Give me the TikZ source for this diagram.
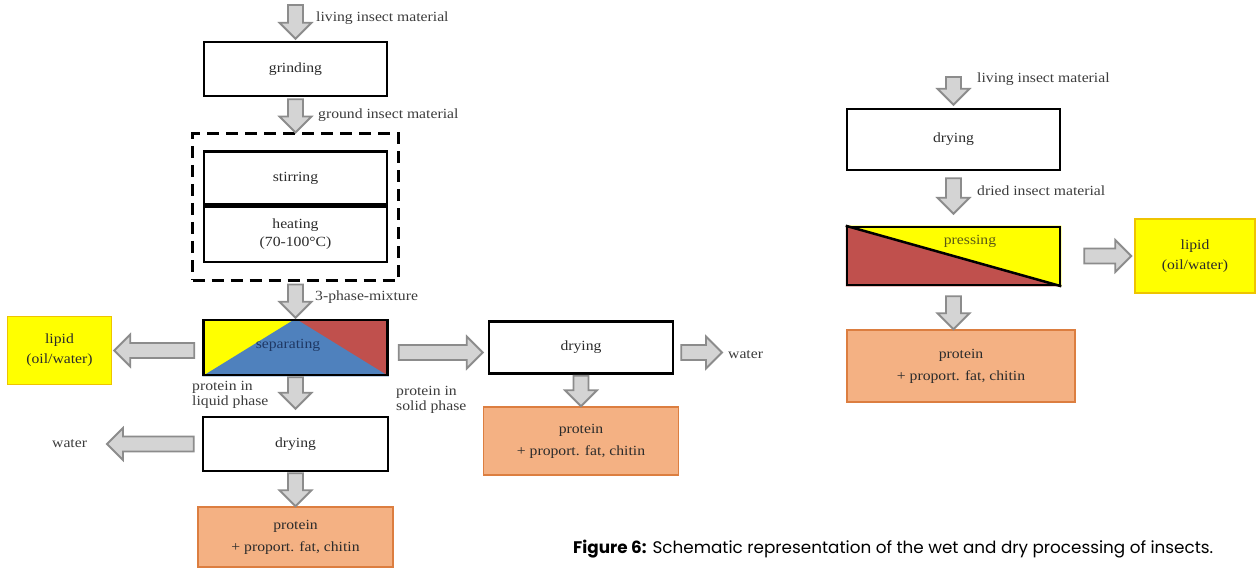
\documentclass[tikz,border=0pt]{standalone}
\usepackage{fontspec}
\usepackage{graphicx}
\setmainfont{Liberation Serif}[FakeStretch=1.12]
\newfontfamily\capfont{Poppins}
\usetikzlibrary{calc,backgrounds}
\definecolor{arrowline}{HTML}{8C8C8C}
\definecolor{arrowfill}{HTML}{D4D4D4}
\definecolor{ylw}{HTML}{FFFF00}
\definecolor{ylwedge}{HTML}{EEC400}
\definecolor{redfill}{HTML}{C0504D}
\definecolor{bluefill}{HTML}{4F81BD}
\definecolor{orfill}{HTML}{F4B183}
\definecolor{oredge}{HTML}{DC7E40}
\definecolor{txt}{HTML}{2B2B2B}
\definecolor{lbltxt}{HTML}{3C3C3C}
\definecolor{septxt}{HTML}{1F3864}
\definecolor{presstxt}{HTML}{5C5A14}
\tikzset{
  box/.style={draw=black, line width=2.5pt, fill=white, inner sep=0pt, align=center, text=txt},
  ybox/.style={draw=ylwedge, line width=1.5pt, fill=ylw, inner sep=0pt, align=center, text=txt,
    font=\fontsize{14}{20}\selectfont},
  obox/.style={draw=oredge, line width=1.5pt, fill=orfill, inner sep=0pt, align=center, text=txt,
    font=\fontsize{14}{22}\selectfont},
  lbl/.style={anchor=west, inner sep=0pt, text=lbltxt, align=left, font=\fontsize{14}{15.5}\selectfont},
  barrow/.style={draw=arrowline, fill=arrowfill, line width=1.8pt, line join=miter,
    to path={
      ($(\tikztostart)!7.5pt!90:(\tikztotarget)$)
      -- ($(\tikztotarget)!16pt!(\tikztostart)!7.5pt!-90:(\tikztostart)$)
      -- ($(\tikztotarget)!16pt!(\tikztostart)!16pt!-90:(\tikztostart)$)
      -- (\tikztotarget)
      -- ($(\tikztotarget)!16pt!(\tikztostart)!16pt!90:(\tikztostart)$)
      -- ($(\tikztotarget)!16pt!(\tikztostart)!7.5pt!90:(\tikztostart)$)
      -- ($(\tikztostart)!7.5pt!-90:(\tikztotarget)$)
      -- cycle}}
}
\begin{document}
\begin{tikzpicture}[x=1pt,y=-1pt, font=\fontsize{14}{17}\selectfont]
\useasboundingbox (0,0) rectangle (1257,569);

% ---------- left: wet processing ----------
\node[box, minimum width=183pt, minimum height=54pt] (grind) at (295.5,69) {grinding};
\node[draw=black, line width=3pt, dash pattern=on 12pt off 7pt, minimum width=206pt, minimum height=146pt, inner sep=0pt] (mix) at (295.5,207) {};
\node[box, minimum width=183pt, minimum height=53pt] (stir) at (295.5,178) {stirring};
\node[box, minimum width=183pt, minimum height=55pt, font=\fontsize{14}{18}\selectfont] (heat) at (295.5,234.5) {heating\\(70-100°C)};
\node[box, fill=none, minimum width=184pt, minimum height=55pt] (sep) at (295.5,347.5) {};
\node[text=septxt, inner sep=0pt] (septext) at (288,345) {separating};
\node[ybox, minimum width=104pt, minimum height=68pt] (lipL) at (59.5,350.5) {lipid\\(oil/water)};
\node[box, minimum width=185pt, minimum height=54pt] (dry1) at (295.5,444) {drying};
\node[obox, minimum width=195pt, minimum height=60pt] (prot1) at (295.5,537) {protein\\+ proport. fat, chitin};

% ---------- middle ----------
\node[box, minimum width=184pt, minimum height=52pt] (dry2) at (581,347.5) {drying};
\node[obox, minimum width=195pt, minimum height=68pt] (prot2) at (581,441) {protein\\+ proport. fat, chitin};

% ---------- right: dry processing ----------
\node[box, minimum width=213pt, minimum height=61pt] (dry3) at (953.5,139.5) {drying};
\node[box, fill=none, minimum width=213pt, minimum height=58pt] (press) at (953.5,256) {};
\node[text=presstxt, inner sep=0pt] (presstext) at (970,241) {pressing};
\node[ybox, minimum width=120pt, minimum height=74pt] (lipR) at (1195,256) {lipid\\(oil/water)};
\node[obox, minimum width=228pt, minimum height=72pt] (prot3) at (961,366) {protein\\+ proport. fat, chitin};

% ---------- fills behind ----------
\begin{scope}[on background layer]
  \fill[white] (0,0) rectangle (1257,569);
  \fill[ylw] (sep.north west) rectangle (sep.south);
  \fill[redfill] (sep.north) rectangle (sep.south east);
  \fill[bluefill] (sep.north) -- (sep.south east) -- (sep.south west) -- cycle;
  \fill[redfill] (press.north west) -- (press.south east) -- (press.south west) -- cycle;
  \fill[ylw] (press.north west) -- (press.north east) -- (press.south east) -- cycle;
\end{scope}
\draw[line width=2.5pt] (press.north west) -- (press.south east);

% ---------- free ends ----------
\coordinate (inL) at (295.5,5);
\coordinate (wL) at (107,444);
\coordinate (w2) at (722,352.5);
\coordinate (inR) at (953.5,77);

% ---------- arrows ----------
\draw[barrow] (inL) to ([yshift=2pt]grind.north);
\draw[barrow] ([yshift=-2pt]grind.south) to (mix.north);
\draw[barrow] ([yshift=-3pt]mix.south) to ([yshift=1pt]sep.north);
\draw[barrow] ([shift={(-8pt,-3pt)}]sep.west) to ([xshift=2pt]lipL.east);
\draw[barrow] ([shift={(10pt,-5pt)}]sep.east) to ([shift={(-5pt,-5pt)}]dry2.west);
\draw[barrow] ([yshift=-1pt]sep.south) to ([yshift=7pt]dry1.north);
\draw[barrow] ([xshift=-8pt]dry1.west) to (wL);
\draw[barrow] ([yshift=-1pt]dry1.south) to (prot1.north);
\draw[barrow] ([shift={(7pt,-5pt)}]dry2.east) to (w2);
\draw[barrow] ([yshift=-1pt]dry2.south) to (prot2.north);
\draw[barrow] (inR) to ([yshift=3pt]dry3.north);
\draw[barrow] ([yshift=-7pt]dry3.south) to ([yshift=12pt]press.north);
\draw[barrow] ([xshift=23pt]press.east) to ([xshift=-3pt]lipR.west);
\draw[barrow] ([yshift=-10pt]press.south) to (press.south |- prot3.north);

% ---------- labels ----------
\node[lbl] (l1) at (316,18) {living insect material};
\node[lbl] (l2) at (318,115) {ground insect material};
\node[lbl] (l3) at (315,297) {3-phase-mixture};
\node[lbl] (l4) at (192,395) {protein in\\liquid phase};
\node[lbl] (l5) at (396,400) {protein in\\solid phase};
\node[lbl] (l6) at (52,444) {water};
\node[lbl] (l7) at (728,355) {water};
\node[lbl] (l8) at (977,79) {living insect material};
\node[lbl] (l9) at (977,191) {dried insect material};

% ---------- caption ----------
\node[anchor=base west, inner sep=0pt, text=black] (cap) at (573,553)
  {\resizebox{640pt}{!}{\capfont\fontsize{15}{18}\selectfont\textbf{Figure 6:} Schematic representation of the wet and dry processing of insects.}};
\end{tikzpicture}
\end{document}
